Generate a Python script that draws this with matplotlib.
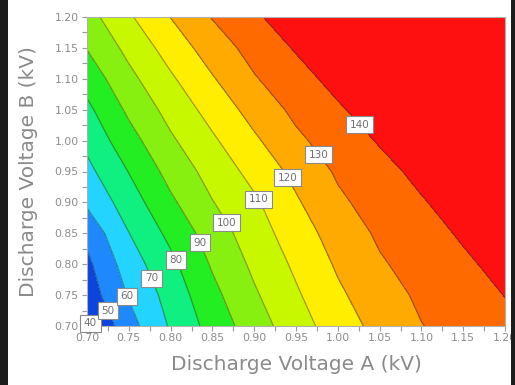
import numpy as np
import matplotlib
matplotlib.use("Agg")
import matplotlib.pyplot as plt
from matplotlib.colors import ListedColormap, BoundaryNorm
from matplotlib.patches import Rectangle

# Data
voltage_a = [0.70, 0.75, 0.80, 0.85, 0.90, 0.95, 1.00, 1.05, 1.10, 1.15, 1.20]
voltage_b = [0.70, 0.75, 0.80, 0.85, 0.90, 0.95, 1.00, 1.05, 1.10, 1.15, 1.20]
# rows: voltage_b, columns: voltage_a
z_values = [
    [38.0, 56.1, 71.1, 83.8, 95.3, 105.5, 115.1, 123.1, 129.7, 133.8, 137.8],
    [44.5, 60.8, 73.8, 87.3, 98.7, 108.7, 118.3, 125.8, 131.7, 135.9, 140.2],
    [47.7, 65.0, 77.5, 91.1, 102.0, 111.8, 121.3, 128.9, 133.9, 138.4, 142.9],
    [52.8, 69.8, 82.6, 94.8, 105.2, 115.2, 124.3, 131.5, 136.3, 141.2, 146.0],
    [61.6, 75.0, 88.2, 99.6, 108.4, 118.8, 128.2, 134.1, 139.2, 144.3, 149.3],
    [67.3, 80.3, 93.4, 103.8, 113.2, 122.7, 131.3, 136.9, 142.5, 148.1, 153.6],
    [72.5, 86.2, 98.5, 108.5, 118.4, 128.0, 134.8, 140.8, 146.7, 152.7, 158.7],
    [77.7, 91.9, 103.4, 113.7, 123.7, 132.3, 138.7, 145.1, 151.5, 158.0, 164.0],
    [84.0, 97.3, 108.6, 119.2, 129.2, 136.3, 143.2, 150.0, 156.8, 163.7, 170.5],
    [90.4, 102.8, 114.2, 124.8, 133.6, 140.9, 148.2, 155.6, 162.9, 170.2, 177.6],
    [96.1, 108.7, 120.2, 130.5, 138.3, 146.2, 154.1, 162.0, 170.0, 177.9, 185.8],
]
levels = [40, 50, 60, 70, 80, 90, 100, 110, 120, 130, 140]
x_ticks = [0.70, 0.75, 0.80, 0.85, 0.90, 0.95, 1.00, 1.05, 1.10, 1.15, 1.20]
y_ticks = [0.70, 0.75, 0.80, 0.85, 0.90, 0.95, 1.00, 1.05, 1.10, 1.15, 1.20]

band_colors = ['#0c44dd', '#1e88ff', '#22d4ff', '#10f080', '#22ee22',
               '#88f010', '#c8f800', '#ffee00', '#ffaa00', '#ff6a00']
under_color = '#0a35c8'
over_color = '#ff1010'

A, B = np.meshgrid(voltage_a, voltage_b)
Z = np.array(z_values)

fig = plt.figure(figsize=(5.15, 3.85), dpi=100)
ax = fig.add_axes([87/515, 1-326/385, (505-87)/515, (326-17)/385])

cmap = ListedColormap(band_colors)
cmap.set_under(under_color)
cmap.set_over(over_color)
norm = BoundaryNorm(levels, cmap.N)
ax.contourf(A, B, Z, levels=levels, cmap=cmap, norm=norm, extend='both')
cs = ax.contour(A, B, Z, levels=levels, colors='#303030', linewidths=0.9, alpha=0.45)

# label positions: exact crossing of each contour with the diagonal A = B
positions = []
for i, lev in enumerate(levels):
    found = None
    for seg in cs.allsegs[i]:
        d = seg[:, 0] - seg[:, 1]
        for k in range(len(seg) - 1):
            if d[k] == 0 or d[k] * d[k + 1] < 0:
                f = 0.0 if d[k] == 0 else d[k] / (d[k] - d[k + 1])
                p = seg[k] + f * (seg[k + 1] - seg[k])
                found = (p[0], p[1])
                break
        if found:
            break
    if found is None:
        best = None
        for seg in cs.allsegs[i]:
            dd = np.abs(seg[:, 0] - seg[:, 1])
            k = np.argmin(dd)
            if best is None or dd[k] < best[0]:
                best = (dd[k], seg[k, 0], seg[k, 1])
        found = (best[1], best[2])
    positions.append(found)

labels = []
for lev, (px, py) in zip(levels, positions):
    t = ax.text(px, py, f'{lev}', fontsize=7.5, color='#707070', ha='center', va='center',
                zorder=10, clip_on=False,
                bbox=dict(boxstyle='square,pad=0.35', facecolor='white', edgecolor='#8a8a8a', linewidth=0.8))
    labels.append(t)

ax.set_xlim(0.70, 1.20)
ax.set_ylim(0.70, 1.20)
ax.set_xticks(x_ticks)
ax.set_yticks(y_ticks)
ax.set_xticklabels([f'{v:.2f}' for v in x_ticks])
ax.set_yticklabels([f'{v:.2f}' for v in y_ticks])
ax.set_xticks(np.arange(0.725, 1.20, 0.05), minor=True)
ax.set_yticks(np.arange(0.725, 1.20, 0.05), minor=True)
ax.tick_params(which='both', direction='out', length=3.5, width=0.8, color='#9a9a9a',
               labelsize=7.8, labelcolor='#8c8c8c', pad=1.5)
ax.tick_params(axis='y', pad=2.5)
for s in ax.spines.values():
    s.set_color('#b0b0b0')
    s.set_linewidth(0.8)

ax.set_xlabel('Discharge Voltage A (kV)', fontsize=14.5, color='#8a8a8a', labelpad=9)
ax.set_ylabel('Discharge Voltage B (kV)', fontsize=14.5, color='#8a8a8a', labelpad=12)

# dark frame strips at the image edges
fig.patches.append(Rectangle((0, 0), 8/515, 1, transform=fig.transFigure, facecolor='#1c1c1c', edgecolor='none'))
fig.patches.append(Rectangle((511/515, 0), 4/515, 1, transform=fig.transFigure, facecolor='#1c1c1c', edgecolor='none'))

fig.savefig('out.png', dpi=100)
